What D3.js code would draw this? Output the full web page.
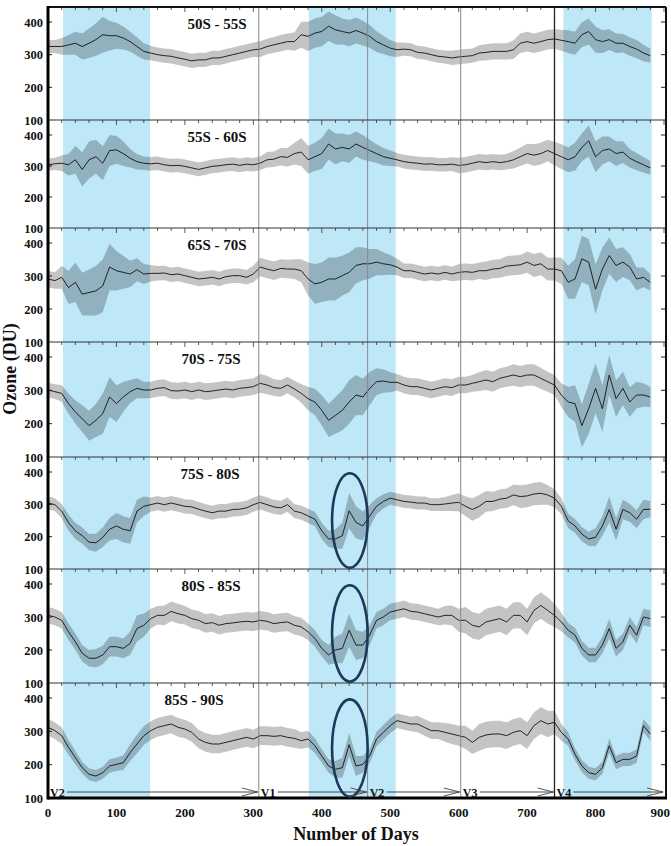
<!DOCTYPE html>
<html><head><meta charset="utf-8">
<script src="https://cdn.jsdelivr.net/npm/d3@7"></script>
<style>
body{margin:0;background:#fff}
svg{display:block}
text{font-family:"Liberation Serif","Times New Roman",serif;font-weight:bold;fill:#111}
</style>
</head><body>
<svg id="c" width="671" height="846"></svg>
<script>
// ---------- DATA ----------
const days = d3.range(0, 890, 10);
const regions = ["50S - 55S","55S - 60S","65S - 70S","70S - 75S","75S - 80S","80S - 85S","85S - 90S"];

const mean1 = [325,325,325,330,335,325,335,346,361,358, 358,351,340,325,310,305,300,297,295,290, 286,281,284,284,290,290,295,300,305,310, 315,317,325,330,335,340,340,361,356,366, 371,387,376,371,366,374,366,356,340,330, 320,315,317,315,307,305,300,295,293,290, 293,295,297,305,307,310,310,310,315,335, 340,335,340,346,348,344,340,335,361,371, 346,340,346,335,335,325,317,305,297];
const spread1 = [20,20,25,30,35,40,45,50,55,45, 40,35,30,28,25,22,22,22,22,22, 22,22,22,22,22,22,22,22,22,22, 22,24,24,24,25,25,28,40,45,45, 45,45,45,40,40,40,38,35,32,28, 25,22,20,20,20,20,20,20,20,22, 22,22,22,24,25,25,25,25,28,30, 30,30,30,30,30,32,35,35,38,40, 40,35,32,30,28,28,28,25,22];

const mean2 = [304,307,309,304,320,289,320,330,309,350, 352,340,325,314,309,307,309,304,301,302, 299,294,289,294,299,301,304,306,302,306, 304,309,320,322,330,328,340,345,320,330, 340,371,355,360,355,371,360,350,340,330, 325,320,314,311,309,306,307,304,304,306, 302,304,309,314,311,314,311,314,320,330, 340,335,340,350,340,330,320,330,360,381, 330,350,355,340,345,325,314,304,294];
const spread2 = [20,20,25,35,45,55,60,55,55,50, 45,40,30,25,22,22,22,22,22,22, 22,22,22,22,22,22,22,22,22,22, 22,22,25,25,28,30,35,45,45,45, 50,50,50,45,45,40,40,35,30,28, 25,22,22,22,22,22,22,22,22,22, 25,25,25,25,25,25,25,25,28,30, 32,35,35,35,38,40,40,45,45,50, 50,45,40,40,35,30,28,25,22];

const mean3 = [291,286,296,265,281,245,250,255,270,327, 316,311,306,319,306,308,308,309,304,306, 301,296,291,293,296,291,298,301,301,296, 306,327,321,316,323,321,321,316,291,276, 281,291,291,301,311,332,337,337,342,337, 334,327,316,316,311,306,309,306,311,306, 311,313,311,316,316,321,323,330,332,334, 342,332,337,321,321,316,281,291,352,342, 260,321,362,332,342,327,291,296,281];
const spread3 = [25,25,35,50,60,65,70,75,80,70, 60,50,40,35,30,25,22,22,22,22, 22,22,22,22,22,22,22,22,22,22, 25,28,28,28,28,28,30,35,50,60, 60,65,65,60,60,55,50,45,40,35, 30,25,22,22,22,22,22,22,22,22, 25,25,25,25,28,28,28,30,30,30, 32,35,35,35,35,40,50,60,70,70, 75,65,55,50,45,40,35,30,25];

const mean4 = [301,296,291,260,235,215,194,210,230,280, 260,280,296,306,301,301,306,308,299,298, 301,296,301,296,298,301,304,301,306,308, 311,321,316,308,306,316,304,291,275,265, 240,210,225,240,265,286,280,306,326,328, 324,324,316,311,311,306,301,306,311,308, 316,316,321,326,331,326,336,341,346,341, 346,346,336,326,316,286,265,260,194,245, 306,245,346,275,306,265,286,286,280];
const spread4 = [22,22,25,30,35,40,45,50,60,60, 55,45,35,30,25,25,25,25,25,25, 25,25,25,25,25,25,25,25,25,25, 25,28,28,25,25,25,25,28,35,40, 45,50,55,60,65,60,55,50,40,35, 30,25,25,25,25,25,25,25,25,25, 25,25,25,28,30,30,30,30,32,32, 32,32,32,30,30,35,45,55,65,75, 75,70,60,55,50,45,40,35,30];

const mean5 = [304,299,279,243,218,203,183,181,198,223, 233,223,218,279,294,299,304,299,304,299, 294,292,285,279,274,279,279,284,285,289, 299,306,299,292,289,299,279,274,264,254, 218,193,193,203,280,244,233,264,294,309, 319,314,309,307,304,304,299,299,301,304, 306,294,284,294,309,309,316,319,329,324, 326,332,334,329,319,294,249,233,208,193, 198,233,284,223,284,274,254,284,285];
const spread5 = [20,20,22,25,25,25,25,28,30,35, 40,40,40,35,30,22,22,22,22,22, 22,22,22,22,22,22,22,22,22,22, 22,22,22,22,22,22,22,22,22,22, 25,25,30,40,55,50,45,35,25,22, 20,20,20,20,20,20,20,20,22,25, 28,30,35,35,32,30,30,30,32,35, 35,35,35,30,28,25,22,22,22,22, 28,30,40,35,30,28,28,30,25];

const mean6 = [305,300,290,255,225,190,175,175,185,210, 210,205,220,265,275,295,305,305,317,310, 305,295,290,280,283,275,280,282,285,287, 285,290,287,280,283,285,275,270,255,235, 205,185,200,205,260,215,215,245,290,300, 315,320,325,317,315,310,305,300,305,305, 290,290,275,270,285,290,295,285,305,305, 285,320,335,320,305,285,260,245,205,185, 185,215,265,205,225,275,245,300,295];
const spread6 = [25,25,25,25,25,25,25,28,28,30, 30,30,35,40,35,30,28,30,30,30, 28,28,28,28,28,28,28,28,28,28, 28,28,28,28,28,28,28,28,25,25, 25,30,40,45,50,45,40,30,25,25, 25,25,25,25,25,25,25,25,28,30, 35,40,40,40,40,40,40,40,40,40, 40,40,40,40,35,28,22,22,22,22, 22,25,30,25,25,25,25,25,25];

const mean7 = [312,302,287,252,221,191,171,166,176,196, 201,206,236,262,287,302,312,317,322,312, 307,297,277,267,262,262,267,272,277,282, 277,287,287,285,287,282,279,272,277,257, 226,196,186,191,260,196,201,226,277,297, 317,332,327,322,322,312,302,302,297,292, 287,282,267,282,289,292,292,287,297,302, 287,317,332,322,327,297,277,231,196,176, 171,191,257,206,216,216,226,317,292];
const spread7 = [25,25,25,22,20,18,18,18,18,20, 20,22,25,28,28,28,28,28,28,28, 28,28,28,28,28,28,28,28,28,28, 28,28,28,28,28,28,28,25,25,22, 20,20,25,30,35,30,25,22,22,22, 22,22,22,22,25,25,25,25,28,30, 30,35,35,40,40,40,40,40,40,40, 40,40,40,40,35,25,20,18,18,18, 18,18,22,20,20,20,20,20,20];

const means = [mean1,mean2,mean3,mean4,mean5,mean6,mean7];
const spreads = [spread1,spread2,spread3,spread4,spread5,spread6,spread7];

const blueSpans = [[22,149],[381,508],[753,882]];
const vLineDays = [308,467,603,740];
const vLabels = ["V2","V1","V2","V3","V4"];
const vStarts = [0,308,467,603,740];
const vEnds = [308,467,603,740,900];
const xTickVals = [0,100,200,300,400,500,600,700,800,900];
const yTickVals = [100,200,300,400];
const ellipsePanels = [4,5,6];
const ellipseDay = 441, ellipseHalfDays = 26, ellipseLow = 104, ellipseHigh = 396;
const arrowLevel = 118;

// ---------- LAYOUT ----------
const svg = d3.select("#c");
const L = 48, R = 664, RF = 666;
const panelTops = [7,120,228,342,457,569,683,798];
const x = d3.scaleLinear().domain([0,900]).range([L,R]);
const yScales = regions.map((r,i)=>d3.scaleLinear().domain([100,400]).range([panelTops[i+1], panelTops[i]+15]));
const T = panelTops[0], B = panelTops[7];

// blue spans
svg.selectAll("rect.blue").data(blueSpans).enter().append("rect")
  .attr("x",d=>x(d[0])).attr("width",d=>x(d[1])-x(d[0]))
  .attr("y",T).attr("height",B-T).attr("fill","#bee7f7");

const defs = svg.append("defs");
regions.forEach((r,i)=>{
  defs.append("clipPath").attr("id","cp"+i).append("rect")
    .attr("x",L).attr("y",panelTops[i]).attr("width",RF-L).attr("height",panelTops[i+1]-panelTops[i]);
});

regions.forEach((r,i)=>{
  const y = yScales[i];
  const pts = days.map((d,k)=>({d, m:means[i][k], s:spreads[i][k]}));
  const g = svg.append("g").attr("clip-path",`url(#cp${i})`);
  g.append("path").datum(pts)
    .attr("d", d3.area().x(p=>x(p.d)).y0(p=>y(p.m-p.s)).y1(p=>y(p.m+p.s)))
    .attr("fill","#000").attr("fill-opacity",0.23);
  g.append("path").datum(pts)
    .attr("d", d3.line().x(p=>x(p.d)).y(p=>y(p.m)))
    .attr("fill","none").attr("stroke","#111").attr("stroke-width",0.9);
});

// vertical lines
svg.selectAll("line.v").data(vLineDays).enter().append("line")
  .attr("x1",d=>x(d)).attr("x2",d=>x(d)).attr("y1",T).attr("y2",B)
  .attr("stroke",(d,i)=>i===3?"#222":"#888").attr("stroke-width",(d,i)=>i===3?1.3:1);

// panel separators, ticks
regions.forEach((r,i)=>{
  const y = yScales[i];
  const top = panelTops[i];
  if(i>0) svg.append("line").attr("x1",L).attr("x2",RF).attr("y1",top).attr("y2",top).attr("stroke","#333").attr("stroke-width",1);
  const minor = d3.range(0,901,20);
  svg.append("g").selectAll("line").data(minor).enter().append("line")
    .attr("x1",d=>x(d)).attr("x2",d=>x(d)).attr("y1",top).attr("y2",d=>top+(d%100===0?5:3))
    .attr("stroke","#333").attr("stroke-width",0.8);
  const yt = [200,300,400];
  svg.append("g").selectAll("line").data(yt).enter().append("line")
    .attr("x1",L).attr("x2",L+4).attr("y1",d=>y(d)).attr("y2",d=>y(d)).attr("stroke","#222");
  svg.append("g").selectAll("line").data(yt).enter().append("line")
    .attr("x1",RF-5).attr("x2",RF).attr("y1",d=>y(d)).attr("y2",d=>y(d)).attr("stroke","#222");
  svg.append("g").selectAll("text").data(yTickVals).enter().append("text")
    .attr("x",43).attr("y",d=>y(d)+4.5).attr("text-anchor","end").attr("font-size",12.5).text(d=>d);
  svg.append("text").attr("x",[217,217,217,211,210,211,194][i]).attr("y",top+22)
    .attr("text-anchor","middle").attr("font-size",15).text(r);
});

// outer frame
svg.append("line").attr("x1",L).attr("x2",RF).attr("y1",T).attr("y2",T).attr("stroke","#111").attr("stroke-width",2);
svg.append("line").attr("x1",RF).attr("x2",RF).attr("y1",T).attr("y2",B).attr("stroke","#111").attr("stroke-width",2);
svg.append("line").attr("x1",L).attr("x2",L).attr("y1",T-1).attr("y2",B+1.5).attr("stroke","#000").attr("stroke-width",3);
svg.append("line").attr("x1",L).attr("x2",RF+1).attr("y1",B).attr("y2",B).attr("stroke","#000").attr("stroke-width",3);

// ellipses
ellipsePanels.forEach(i=>{
  const y = yScales[i];
  svg.append("ellipse")
    .attr("cx",x(ellipseDay)).attr("cy",y((ellipseLow+ellipseHigh)/2))
    .attr("rx",x(ellipseDay+ellipseHalfDays)-x(ellipseDay))
    .attr("ry",(y(ellipseLow)-y(ellipseHigh))/2)
    .attr("fill","none").attr("stroke","#1b3a5a").attr("stroke-width",2.6);
});

// V arrows on bottom panel
const y7 = yScales[6];
const ay = y7(arrowLevel);
vLabels.forEach((lab,k)=>{
  const xs = x(vStarts[k]) + 2, xe = x(vEnds[k]) - 1;
  svg.append("text").attr("x",xs).attr("y",ay+4.5).attr("font-size",12).text(lab);
  const ls = xs + 17;
  svg.append("line").attr("x1",ls).attr("x2",xe).attr("y1",ay).attr("y2",ay).attr("stroke","#333").attr("stroke-width",0.9);
  svg.append("path").attr("d",`M${xe-16},${ay-4}L${xe},${ay}L${xe-16},${ay+4}`)
    .attr("fill","none").attr("stroke","#444").attr("stroke-width",0.9);
});

// x axis labels
svg.append("g").selectAll("text").data(xTickVals).enter().append("text")
  .attr("x",d=>d===900?670:x(d)).attr("y",817).attr("text-anchor",d=>d===900?"end":"middle").attr("font-size",13).text(d=>d);

svg.append("text").attr("x",356).attr("y",840).attr("text-anchor","middle").attr("font-size",18).text("Number of Days");
svg.append("text").attr("transform","translate(16,369) rotate(-90)").attr("text-anchor","middle").attr("font-size",18).text("Ozone (DU)");
</script>
</body></html>
